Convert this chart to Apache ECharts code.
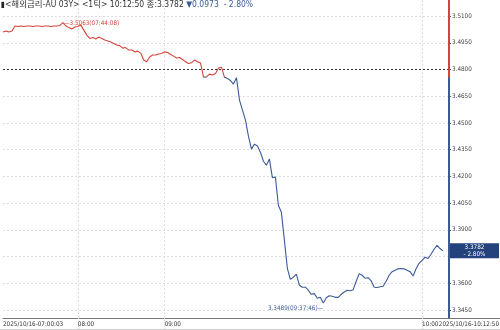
<!DOCTYPE html>
<html><head><meta charset="utf-8">
<script src="https://cdn.jsdelivr.net/npm/echarts@6/dist/echarts.min.js"></script>
<style>html,body{margin:0;padding:0;background:#fff}#c{width:500px;height:330px}</style>
</head><body><div id="c"></div>
<script>
// ---- data ----
const values = [
  3.5010,3.5016,3.5010,3.5016,3.5044,3.5041,3.5044,3.5041,3.5044,3.5044,
  3.5041,3.5044,3.5044,3.5041,3.5044,3.5044,3.5041,3.5044,3.5044,3.5047,
  3.5063,3.5044,3.5035,3.5027,3.5038,3.5041,3.5049,3.5021,3.4993,3.4974,
  3.4979,3.4971,3.4982,3.4974,3.4965,3.4960,3.4954,3.4946,3.4937,3.4934,
  3.4920,3.4923,3.4909,3.4909,3.4899,3.4903,3.4892,3.4853,3.4843,3.4870,
  3.4881,3.4881,3.4887,3.4890,3.4899,3.4895,3.4884,3.4875,3.4864,3.4867,
  3.4856,3.4843,3.4834,3.4838,3.4853,3.4844,3.4836,3.4757,3.4758,3.4774,
  3.4769,3.4777,3.4808,3.4813,3.4756,3.4749,3.4738,3.4718,3.4754,3.4628,
  3.4572,3.4516,3.4426,3.4353,3.4381,3.4370,3.4336,3.4285,3.4263,3.4297,
  3.4193,3.4196,3.4038,3.3999,3.3842,3.3684,3.3622,3.3634,3.3651,3.3589,
  3.3578,3.3578,3.3561,3.3538,3.3542,3.3516,3.3521,3.3489,3.3519,3.3530,
  3.3527,3.3521,3.3521,3.3538,3.3551,3.3561,3.3558,3.3564,3.3611,3.3654,
  3.3645,3.3628,3.3631,3.3614,3.3578,3.3576,3.3580,3.3583,3.3611,3.3645,
  3.3665,3.3673,3.3681,3.3683,3.3681,3.3673,3.3665,3.3641,3.3681,3.3712,
  3.3729,3.3746,3.3739,3.3763,3.3791,3.3813,3.3795,3.3782
];
const slotCount = 150;
const xTickLabels = ['2025/10/16-07:00:03', '08:00', '09:00', '10:00'];
const xTickIndex = [0, 25, 54, 140];
const endTimeLabel = '2025/10/16-10:12:50';
const yTicks = [3.345, 3.36, 3.375, 3.39, 3.405, 3.42, 3.435, 3.45, 3.465, 3.48, 3.495, 3.51];
const yMin = 3.3405, yMax = 3.519;
const prevClose = 3.4755;
const lastPrice = 3.3782;
const changeText = '▼0.0973';
const pctText = '- 2.80%';
const highLabel = '3.5063(07:44:08)';
const lowLabel = '3.3489(09:37:46)';
const titleMain = '<해외금리-AU 03Y> <1틱> 10:12:50 종:3.3782 ';

// ---- build ----
const categories = [];
for (let i = 0; i < slotCount; i++) categories.push('');
xTickIndex.forEach((ix, k) => { categories[ix] = xTickLabels[k]; });

const RED = '#d3453b', BLUE = '#3a5a98';
const FONT = "'DejaVu Sans Condensed','Noto Sans CJK KR',sans-serif";
const SMALL = 6.3;
const tickOn = (i, v) => v !== '' && i > 0;

const chart = echarts.init(document.getElementById('c'), null, {renderer: 'canvas'});
chart.setOption({
  animation: false,
  backgroundColor: '#fff',
  title: {
    text: '{m|▮}{a|' + titleMain + '}{b|' + changeText + '  ' + pctText + '}',
    left: 1, top: 1, padding: 0,
    textStyle: {
      fontSize: 8.5, fontWeight: 'normal', fontFamily: FONT,
      rich: {
        m: {color: '#222', fontSize: 8, fontFamily: FONT},
        a: {color: '#333', fontSize: 8.5, fontFamily: FONT},
        b: {color: BLUE, fontSize: 8.5, fontFamily: FONT}
      }
    }
  },
  grid: {left: 0, right: 51, top: 0, bottom: 12},
  xAxis: {
    type: 'category', data: categories, boundaryGap: false,
    axisLine: {lineStyle: {color: '#777', width: 1}},
    axisTick: {show: true, interval: tickOn, length: 11, lineStyle: {color: '#d8d8d8', type: 'dotted'}},
    axisLabel: {interval: 0, align: 'left', margin: 3, fontSize: SMALL, fontFamily: FONT, color: '#333', hideOverlap: false},
    splitLine: {show: true, interval: tickOn, lineStyle: {color: '#dedede', type: [2, 2]}}
  },
  yAxis: {
    type: 'value', position: 'right', min: yMin, max: yMax,
    axisLine: {show: true, lineStyle: {color: BLUE, width: 2}},
    axisTick: {show: true, customValues: yTicks, length: 2, lineStyle: {color: '#555'}},
    axisLabel: {customValues: yTicks, formatter: v => v.toFixed(4), margin: 3, fontSize: SMALL, fontFamily: FONT, color: '#444'},
    splitLine: {show: true, lineStyle: {color: '#dedede', type: [2, 2]}}
  },
  visualMap: {
    show: false, type: 'piecewise', dimension: 1, seriesIndex: 0,
    pieces: [{gt: prevClose, lte: 4, color: RED}, {gte: 3, lte: prevClose, color: BLUE}]
  },
  series: [{
    type: 'line', data: values, symbol: 'none',
    lineStyle: {width: 1.1},
    markLine: {
      silent: true, symbol: 'none', animation: false,
      label: {show: false},
      data: [
        {yAxis: prevClose, lineStyle: {color: '#333', type: [2, 2], width: 1}},
        [{coord: [slotCount - 1, prevClose], lineStyle: {color: RED, type: 'solid', width: 2}},
         {coord: [slotCount - 1, yMax]}]
      ]
    },
    markPoint: {
      silent: true, animation: false, symbol: 'circle', symbolSize: 0,
      data: [
        {type: 'max', label: {show: true, position: 'right', distance: 1, offset: [0, 1],
          formatter: '—' + highLabel, color: RED, fontSize: SMALL, fontFamily: FONT}},
        {type: 'min', label: {show: true, position: 'left', distance: 0, offset: [0, 5],
          formatter: lowLabel + '—', color: BLUE, fontSize: SMALL, fontFamily: FONT}},
        {coord: [slotCount - 1, lastPrice], label: {show: true, position: 'right', distance: 1,
          formatter: '{t|' + lastPrice.toFixed(4) + '}\n{t|' + pctText + '}',
          backgroundColor: '#24437d', padding: [1, 1, 0, 1],
          rich: {t: {width: 47, align: 'center', color: '#fff', fontSize: SMALL, lineHeight: 7, fontFamily: FONT}}}}
      ]
    }
  }],
  graphic: [
    {type: 'line', shape: {x1: 449, y1: 318.5, x2: 500, y2: 318.5}, style: {stroke: '#777', lineWidth: 1}, silent: true},
    {type: 'line', shape: {x1: 0, y1: 329.5, x2: 500, y2: 329.5}, style: {stroke: '#cfcfcf', lineWidth: 1}, silent: true},
    {type: 'text', right: 1, top: 321, style: {text: endTimeLabel, fontSize: SMALL, fontFamily: FONT, fill: '#333'}, silent: true}
  ]
});
</script>
</body></html>
